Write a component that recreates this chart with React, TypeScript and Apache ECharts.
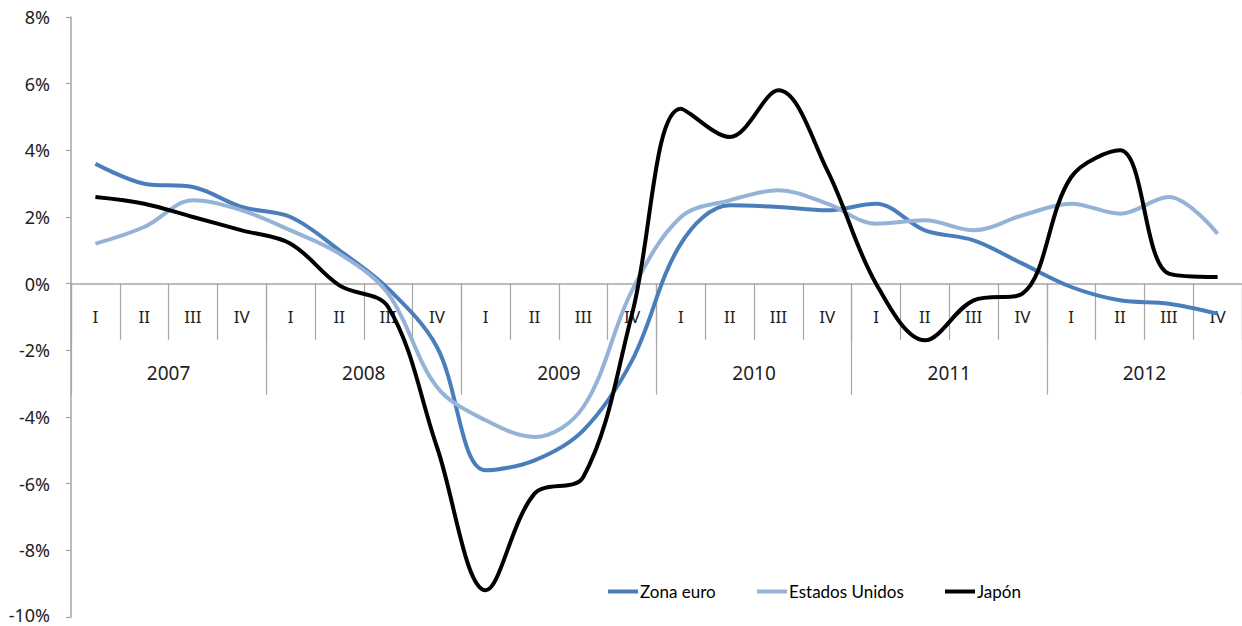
import React, { useEffect, useRef } from "react";
import * as echarts from "echarts";

const years = ["2007", "2008", "2009", "2010", "2011", "2012"];
const quarters = ["I", "II", "III", "IV"];
const quarterLabels = years.flatMap(() => quarters);

const zonaEuro = [3.6, 3.0, 2.9, 2.3, 2.0, 1.0, -0.15, -1.9, -5.6, -5.3, -4.4, -2.3, 1.2, 2.35, 2.3, 2.2, 2.4, 1.6, 1.3, 0.6, -0.1, -0.5, -0.6, -0.9];
const estadosUnidos = [1.2, 1.7, 2.5, 2.2, 1.6, 0.9, -0.3, -3.1, -4.1, -4.6, -3.7, -0.2, 2.0, 2.5, 2.8, 2.4, 1.8, 1.9, 1.6, 2.05, 2.4, 2.1, 2.6, 1.5];
const japon = [2.6, 2.4, 2.0, 1.6, 1.2, -0.05, -0.7, -4.9, -9.2, -6.3, -5.8, -0.9, 5.25, 4.4, 5.8, 3.4, 0.0, -1.7, -0.5, -0.3, 3.2, 4.0, 0.3, 0.2];

const yTicks = { min: -10, max: 8, interval: 2 };

const seriesNames = ["Zona euro", "Estados Unidos", "Japón"];
const seriesColors = ["#4A7EBB", "#95B3D7", "#000000"];

export default function App() {
  const ref = useRef<HTMLDivElement>(null);
  useEffect(() => {
    if (!ref.current) return;
    const chart = echarts.init(ref.current, undefined, { renderer: "svg" });
    const axisColor = "#A6A6A6";
    const labelFont = "'Noto Sans', sans-serif";
    const legendBase = {
      orient: "horizontal" as const,
      top: 583,
      padding: 0,
      itemWidth: 30,
      itemHeight: 4,
      icon: "rect",
      textStyle: { fontFamily: "Lato, sans-serif", fontSize: 17, color: "#000", padding: [0, 0, 0, -3] },
    };
    const dataSets = [zonaEuro, estadosUnidos, japon];
    chart.setOption({
      animation: false,
      backgroundColor: "#fff",
      grid: { left: 71, right: 0, top: 17, bottom: 9, containLabel: false, outerBoundsMode: "none" },
      legend: [
        { ...legendBase, left: 608, data: [seriesNames[0]] },
        { ...legendBase, left: 757, data: [seriesNames[1]] },
        { ...legendBase, left: 945, data: [seriesNames[2]] },
      ],
      xAxis: [
        {
          type: "category",
          data: quarterLabels,
          boundaryGap: true,
          position: "bottom",
          offset: -333.33,
          axisLine: { onZero: false, lineStyle: { color: axisColor, width: 1.5 } },
          axisTick: { show: true, length: 56, interval: 0, lineStyle: { color: axisColor, width: 1.2 } },
          axisLabel: { interval: 0, margin: 24, fontFamily: labelFont, fontSize: 17, color: "#222" },
          splitLine: { show: false },
        },
        {
          type: "category",
          data: years,
          boundaryGap: true,
          position: "bottom",
          offset: -333.33,
          axisLine: { onZero: false, show: false },
          axisTick: { show: true, length: 111, interval: 0, lineStyle: { color: axisColor, width: 1.2 } },
          axisLabel: { interval: 0, margin: 80, fontFamily: labelFont, fontSize: 19, color: "#222" },
          splitLine: { show: false },
        },
      ],
      yAxis: {
        type: "value",
        min: yTicks.min,
        max: yTicks.max,
        interval: yTicks.interval,
        axisLine: { show: true, lineStyle: { color: axisColor, width: 1.5 } },
        axisTick: { show: true, length: 5, lineStyle: { color: axisColor, width: 1.2 } },
        axisLabel: {
          margin: 21,
          fontFamily: labelFont,
          fontSize: 18,
          lineHeight: 16,
          color: "#222",
          formatter: (v: number) => (v === yTicks.min ? `{low|${v}%}` : `${v}%`),
          rich: {
            low: { fontFamily: labelFont, fontSize: 18, lineHeight: 14, color: "#222", padding: [0, 0, 4, 0] },
          },
        },
        splitLine: { show: false },
      },
      series: seriesNames.map((name, i) => ({
        name,
        type: "line",
        xAxisIndex: 0,
        data: dataSets[i],
        smooth: 0.35,
        showSymbol: false,
        symbol: "none",
        itemStyle: { color: seriesColors[i] },
        lineStyle: { color: seriesColors[i], width: 4 },
        z: 2 + i,
      })),
    });
    return () => chart.dispose();
  }, []);
  return (
    <div
      ref={ref}
      style={{ position: "absolute", left: 0, top: 0, width: 1242, height: 626 }}
    />
  );
}
